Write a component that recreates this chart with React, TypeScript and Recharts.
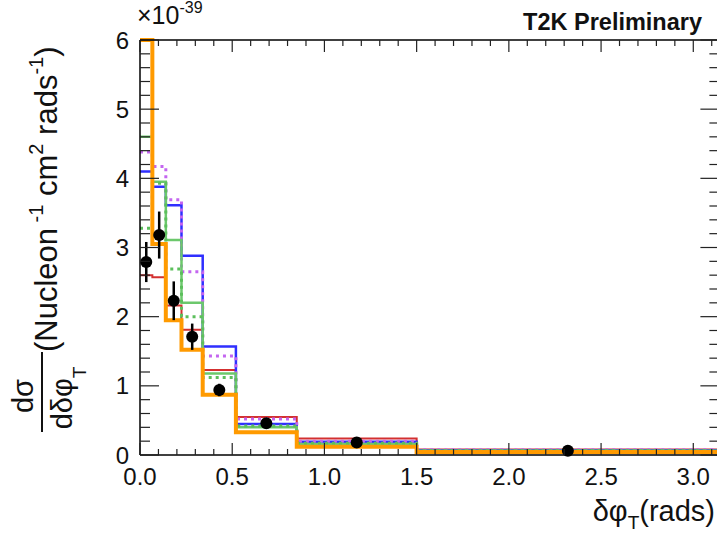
// Differential cross section in delta-phi_T: step histograms (MC models) + data points with errors
import {
  ComposedChart,
  Line,
  Scatter,
  ErrorBar,
  XAxis,
  YAxis,
} from "recharts";

// bin edges (rads)
const EDGES = [0, 0.067, 0.14, 0.225, 0.34, 0.52, 0.85, 1.5, 3.1416];

// model predictions per bin (x 10^-39)
const RED = [2.6, 2.57, 2.16, 1.81, 1.23, 0.55, 0.24, 0.08];
const BLUE = [4.1, 3.88, 3.61, 2.88, 1.57, 0.45, 0.19, 0.07];
const MAGENTA_DOT = [4.38, 4.17, 3.69, 2.65, 1.43, 0.52, 0.2, 0.075];
const GREEN = [4.6, 3.95, 3.11, 2.2, 1.18, 0.4, 0.16, 0.06];
const GREEN_DOT = [3.28, 3.93, 2.69, 2.0, 1.12, 0.42, 0.17, 0.065];
const ORANGE = [6.0, 3.05, 1.95, 1.52, 0.87, 0.33, 0.12, 0.045];

// data points
const POINT_X = [0.034, 0.104, 0.183, 0.283, 0.43, 0.685, 1.175, 2.32];
const POINT_Y = [2.79, 3.18, 2.23, 1.71, 0.94, 0.46, 0.18, 0.06];
const POINT_ERR = [0.29, 0.34, 0.28, 0.19, 0.09, 0.04, 0.02, 0.01];

// axis ticks
const X_TICKS = [
  0, 0.1, 0.2, 0.3, 0.4, 0.5, 0.6, 0.7, 0.8, 0.9, 1.0, 1.1, 1.2, 1.3, 1.4, 1.5,
  1.6, 1.7, 1.8, 1.9, 2.0, 2.1, 2.2, 2.3, 2.4, 2.5, 2.6, 2.7, 2.8, 2.9, 3.0, 3.1,
];
const X_LABELS = [0, 0.5, 1.0, 1.5, 2.0, 2.5, 3.0];
const Y_TICKS = [
  0, 0.2, 0.4, 0.6, 0.8, 1, 1.2, 1.4, 1.6, 1.8, 2, 2.2, 2.4, 2.6, 2.8, 3, 3.2,
  3.4, 3.6, 3.8, 4, 4.2, 4.4, 4.6, 4.8, 5, 5.2, 5.4, 5.6, 5.8, 6,
];
const Y_LABELS = [0, 1, 2, 3, 4, 5, 6];

const FONT = "'Liberation Sans', Arial, Helvetica, sans-serif";
const TICK = "#222";

// histogram table: one row per bin edge, last bin repeated at the closing edge
const histData = EDGES.map((x, i) => {
  const j = Math.min(i, RED.length - 1);
  return {
    x,
    red: RED[j],
    blue: BLUE[j],
    magDot: MAGENTA_DOT[j],
    green: GREEN[j],
    greenDot: GREEN_DOT[j],
    orange: ORANGE[j],
  };
});

const pointData = POINT_X.map((x, i) => ({ x, y: POINT_Y[i], err: POINT_ERR[i] }));

const isLabel = (v: number, list: number[]) =>
  list.some((l) => Math.abs(l - v) < 1e-6);

// inward tick marks (ROOT style) + labels
function BottomTick(props: any) {
  const { x, y, payload } = props;
  const major = isLabel(payload.value, X_LABELS);
  return (
    <g>
      <line x1={x} x2={x} y1={y} y2={y - (major ? 12 : 6)} stroke={TICK} strokeWidth={1.2} />
      {major && (
        <text x={x} y={y + 30} textAnchor="middle" fontSize={24} fontFamily={FONT} fill="#111">
          {payload.value.toFixed(1)}
        </text>
      )}
    </g>
  );
}

function TopTick(props: any) {
  const { x, y, payload } = props;
  const major = isLabel(payload.value, X_LABELS);
  return <line x1={x} x2={x} y1={y} y2={y + (major ? 12 : 6)} stroke={TICK} strokeWidth={1.2} />;
}

function LeftTick(props: any) {
  const { x, y, payload } = props;
  const major = isLabel(payload.value, Y_LABELS);
  return (
    <g>
      <line x1={x} x2={x + (major ? 19 : 10)} y1={y} y2={y} stroke={TICK} strokeWidth={1.2} />
      {major && (
        <text x={x - 11} y={y + 8.5} textAnchor="end" fontSize={24} fontFamily={FONT} fill="#111">
          {payload.value}
        </text>
      )}
    </g>
  );
}

function RightTick(props: any) {
  const { x, y, payload } = props;
  const major = isLabel(payload.value, Y_LABELS);
  return <line x1={x} x2={x - (major ? 19 : 10)} y1={y} y2={y} stroke={TICK} strokeWidth={1.2} />;
}

const Dot = (props: any) => {
  const { cx, cy } = props;
  return <circle cx={cx} cy={cy} r={6} fill="#000" />;
};

export default function App() {
  return (
    <div
      style={{
        position: "absolute",
        left: 0,
        top: 0,
        width: 717,
        height: 534,
        overflow: "hidden",
        background: "#fff",
        fontFamily: FONT,
      }}
    >
      <ComposedChart
        width={730}
        height={534}
        data={histData}
        margin={{ top: 39, right: 9.6, bottom: 78, left: 139 }}
      >
        <XAxis
          dataKey="x"
          type="number"
          domain={[0, 3.1416]}
          ticks={X_TICKS}
          interval={0}
          height={1}
          tickSize={0}
          tickMargin={0}
          tick={<BottomTick />}
          axisLine={{ stroke: "#000", strokeWidth: 1.5 }}
          tickLine={false}
        />
        <XAxis
          xAxisId="top"
          orientation="top"
          type="number"
          dataKey="x"
          domain={[0, 3.1416]}
          allowDataOverflow
          ticks={X_TICKS}
          interval={0}
          height={1}
          tickSize={0}
          tickMargin={0}
          tick={<TopTick />}
          axisLine={{ stroke: "#000", strokeWidth: 1.5 }}
          tickLine={false}
        />
        <YAxis
          type="number"
          domain={[0, 6]}
          ticks={Y_TICKS}
          interval={0}
          width={1}
          tickSize={0}
          tickMargin={0}
          tick={<LeftTick />}
          axisLine={{ stroke: "#000", strokeWidth: 1.5 }}
          tickLine={false}
        />
        <YAxis
          yAxisId="right"
          orientation="right"
          type="number"
          domain={[0, 6]}
          allowDataOverflow
          ticks={Y_TICKS}
          interval={0}
          width={1}
          tickSize={0}
          tickMargin={0}
          tick={<RightTick />}
          axisLine={{ stroke: "#000", strokeWidth: 1.5 }}
          tickLine={false}
        />

        <Line type="stepAfter" dataKey="red" stroke="#d33030" strokeWidth={2} dot={false} activeDot={false} isAnimationActive={false} />
        <Line type="stepAfter" dataKey="blue" stroke="#2f2fff" strokeWidth={2.5} dot={false} activeDot={false} isAnimationActive={false} />
        <Line type="stepAfter" dataKey="magDot" stroke="#c466f0" strokeWidth={3} strokeDasharray="3 4" dot={false} activeDot={false} isAnimationActive={false} />
        <Line type="stepAfter" dataKey="green" stroke="#6cc86c" strokeWidth={2.5} dot={false} activeDot={false} isAnimationActive={false} />
        <Line type="stepAfter" dataKey="greenDot" stroke="#5cbf5c" strokeWidth={3} strokeDasharray="3 4" dot={false} activeDot={false} isAnimationActive={false} />
        <Line type="stepAfter" dataKey="orange" stroke="#ff9a00" strokeWidth={4} dot={false} activeDot={false} isAnimationActive={false} />

        <Scatter data={pointData} dataKey="y" shape={<Dot />} isAnimationActive={false}>
          <ErrorBar dataKey="err" direction="y" width={0} stroke="#000" strokeWidth={2.5} isAnimationActive={false} />
        </Scatter>
      </ComposedChart>

      {/* labels drawn on top of the chart */}
      <svg
        width={717}
        height={534}
        style={{ position: "absolute", left: 0, top: 0, pointerEvents: "none" }}
        fontFamily={FONT}
        fill="#111"
      >
        <text x={137} y={24} fontSize={25}>
          ×10
          <tspan dy={-11} fontSize={16}>-39</tspan>
        </text>
        <text x={702} y={30} textAnchor="end" fontSize={23.5} fontWeight="bold">
          T2K Preliminary
        </text>
        <text x={715} y={521} textAnchor="end" fontSize={29}>
          δφ
          <tspan dy={8} fontSize={19}>T</tspan>
          <tspan dy={-8}>(rads)</tspan>
        </text>

        {/* y title: fraction + units, rotated */}
        <text transform="translate(33, 396) rotate(-90)" textAnchor="middle" fontSize={29}>
          dσ
        </text>
        <line x1={42} x2={42} y1={352} y2={432} stroke="#111" strokeWidth={2} />
        <text transform="translate(72, 398) rotate(-90)" textAnchor="middle" fontSize={29}>
          dδφ
          <tspan dy={14} fontSize={19}>T</tspan>
        </text>
        <text transform="translate(57, 352) rotate(-90)" fontSize={31}>
          (Nucleon
          <tspan dy={-14} fontSize={20}> -1</tspan>
          <tspan dy={14}> cm</tspan>
          <tspan dy={-14} fontSize={20}>2</tspan>
          <tspan dy={14}> rads</tspan>
          <tspan dy={-14} fontSize={20}>-1</tspan>
          <tspan dy={14}>)</tspan>
        </text>
      </svg>
    </div>
  );
}
